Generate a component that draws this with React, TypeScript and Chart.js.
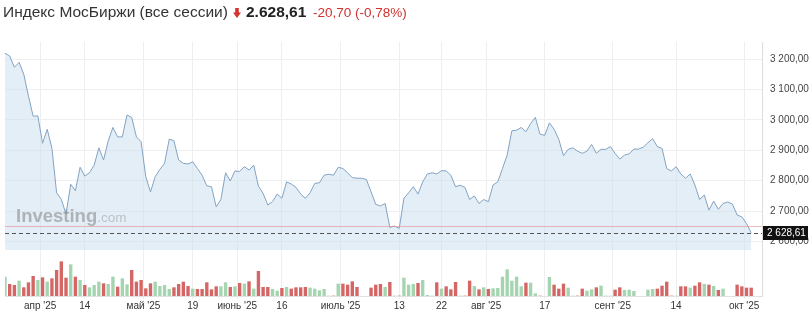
import { useEffect, useRef } from 'react';
import { Chart, registerables } from 'chart.js';

Chart.register(...registerables);

const TITLE = 'Индекс МосБиржи (все сессии)';
const LAST = 2628.61;
const PREV_CLOSE = 2649.31;
const CHANGE_TEXT = '-20,70 (-0,78%)';

const PRICES = [
  3219, 3210, 3173, 3189, 3150, 3078, 3012, 3013, 2923, 2969,
  2906, 2760, 2739, 2690, 2788, 2767, 2844, 2815, 2826, 2851,
  2908, 2868, 2931, 2975, 2944, 2944, 3016, 3008, 2944, 2928,
  2813, 2763, 2813, 2837, 2857, 2937, 2931, 2868, 2857, 2855,
  2862, 2840, 2818, 2783, 2780, 2714, 2738, 2826, 2799, 2832,
  2830, 2846, 2835, 2851, 2782, 2758, 2720, 2731, 2756, 2742,
  2796, 2789, 2778, 2756, 2742, 2760, 2791, 2793, 2818, 2821,
  2818, 2844, 2840, 2826, 2810, 2808, 2808, 2804, 2763, 2722,
  2717, 2725, 2646, 2651, 2643, 2742, 2760, 2780, 2756, 2796,
  2822, 2826, 2822, 2833, 2832, 2818, 2780, 2785, 2778, 2738,
  2750, 2725, 2738, 2731, 2786, 2796, 2840, 2884, 2964, 2966,
  2975, 2961, 2988, 3008, 2953, 2949, 2990, 2969, 2936, 2882,
  2903, 2908, 2897, 2890, 2897, 2919, 2890, 2903, 2903, 2912,
  2890, 2871, 2884, 2888, 2904, 2904, 2910, 2925, 2938, 2912,
  2906, 2840, 2832, 2846, 2822, 2808, 2822, 2786, 2738, 2753,
  2703, 2733, 2706, 2725, 2730, 2723, 2687, 2681, 2659, 2628.61,
];

const VOLUMES = [
  58, 36, 33, 46, 26, 41, 60, 48, 56, 43,
  53, 78, 104, 55, 95, 58, 48, 33, 26, 33,
  43, 38, 36, 58, 28, 53, 35, 78, 43, 48,
  23, 38, 43, 30, 33, 21, 26, 36, 43, 30,
  22, 21, 21, 41, 20, 29, 29, 41, 27, 29,
  39, 37, 44, 22, 75, 27, 27, 21, 16, 24,
  27, 22, 26, 26, 27, 25, 22, 17, 21, 1,
  1, 37, 37, 34, 44, 27, 0, 0, 25, 34,
  36, 27, 42, 1, 1, 55, 34, 36, 39, 48,
  3, 1, 41, 22, 29, 20, 42, 1, 1, 46,
  30, 20, 26, 21, 23, 24, 58, 80, 46, 58,
  29, 40, 40, 8, 1, 0, 57, 34, 22, 37,
  25, 1, 1, 22, 16, 20, 26, 31, 1, 1,
  19, 26, 18, 19, 15, 0, 0, 19, 21, 22,
  31, 43, 1, 1, 29, 29, 25, 31, 41, 36,
  34, 30, 18, 22, 0, 0, 34, 29, 25, 25,
];

const TICK_POS = [7.5, 17, 29.5, 40, 49.5, 59, 71.5, 84, 93, 102.5, 115, 129.5, 143, 157.5];
const TICK_LABELS = ["апр '25", '14', "май '25", '19', "июнь '25", '16', "июль '25", '13', '22', "авг '25", '17', "сент '25", '14', "окт '25"];
const Y_TICKS = [2600, 2700, 2800, 2900, 3000, 3100, 3200];

const FONT = "'Liberation Sans', Arial, sans-serif";
const UP = '#a5d5b0';
const DOWN = '#d46666';

function fmt(v: number): string {
  const [i, d] = v.toFixed(2).split('.');
  return i.replace(/\B(?=(\d{3})+(?!\d))/g, ' ') + ',' + d;
}

const overlay = {
  id: 'overlay',
  afterDatasetsDraw(chart: any) {
    const { ctx, chartArea } = chart;
    const y = chart.scales.y;
    ctx.save();
    ctx.lineWidth = 1;
    const yp = Math.round(y.getPixelForValue(PREV_CLOSE)) + 0.5;
    ctx.strokeStyle = 'rgba(228,140,140,0.6)';
    ctx.beginPath();
    ctx.moveTo(chartArea.left, yp);
    ctx.lineTo(chartArea.right, yp);
    ctx.stroke();
    const yl = Math.round(y.getPixelForValue(LAST)) + 0.5;
    ctx.setLineDash([4, 3]);
    ctx.strokeStyle = '#555';
    ctx.beginPath();
    ctx.moveTo(chartArea.left, yl);
    ctx.lineTo(chartArea.right, yl);
    ctx.stroke();
    ctx.restore();
  },
  afterDraw(chart: any) {
    const { ctx, chartArea } = chart;
    const y = chart.scales.y;
    const yl = Math.round(y.getPixelForValue(LAST));
    ctx.save();
    ctx.fillStyle = '#111';
    ctx.fillRect(chartArea.right + 1, yl - 7, 45, 14);
    ctx.fillStyle = '#fff';
    ctx.font = `10px ${FONT}`;
    ctx.textBaseline = 'middle';
    ctx.textAlign = 'left';
    ctx.fillText(fmt(LAST), chartArea.right + 5, yl + 0.5);
    ctx.restore();
  },
};

export default function App() {
  const ref = useRef<HTMLCanvasElement | null>(null);

  useEffect(() => {
    if (!ref.current) return;
    const n = PRICES.length;
    const colors = PRICES.map((v, i) => (i === 0 || v >= PRICES[i - 1] ? UP : DOWN));
    const chart = new Chart(ref.current, {
      type: 'line',
      data: {
        datasets: [
          {
            type: 'line',
            data: PRICES.map((v, i) => ({ x: i, y: v })),
            xAxisID: 'x',
            yAxisID: 'y',
            borderColor: '#82a3c3',
            borderWidth: 1,
            backgroundColor: 'rgba(200,221,240,0.5)',
            fill: 'start',
            pointRadius: 0,
            tension: 0,
          },
          {
            type: 'bar',
            data: VOLUMES.map((v, i) => ({ x: i, y: v })),
            xAxisID: 'x',
            yAxisID: 'yv',
            backgroundColor: colors,
            borderWidth: 0,
          } as any,
        ],
      },
      options: {
        responsive: false,
        animation: false,
        devicePixelRatio: 1,
        layout: { padding: { top: 42, left: 5, right: 0, bottom: 0 } },
        plugins: { legend: { display: false }, tooltip: { enabled: false }, title: { display: false } },
        scales: {
          x: {
            type: 'linear',
            offset: false,
            min: 0,
            max: n - 1 + 2.3,
            afterBuildTicks: (s: any) => {
              s.ticks = TICK_POS.map((v) => ({ value: v }));
            },
            afterFit: (s: any) => {
              s.height = 18;
            },
            grid: { color: '#eeeeee', drawTicks: true, tickLength: 3, offset: false },
            border: { display: true, color: '#e2e2e2' },
            ticks: {
              autoSkip: false,
              maxRotation: 0,
              padding: 1,
              color: '#333',
              font: { family: FONT, size: 10 },
              callback: (v: any) => {
                const k = TICK_POS.indexOf(Number(v));
                return k >= 0 ? TICK_LABELS[k] : '';
              },
            },
          },
          y: {
            type: 'linear',
            position: 'right',
            stack: 'main',
            stackWeight: 208,
            min: 2572,
            max: 3256,
            afterBuildTicks: (s: any) => {
              s.ticks = Y_TICKS.map((v) => ({ value: v }));
            },
            afterFit: (s: any) => {
              s.width = 50;
            },
            grid: { color: '#efefef', drawTicks: false },
            border: { display: true, color: '#dddddd' },
            ticks: {
              padding: 8,
              color: '#444',
              font: { family: FONT, size: 10 },
              callback: (v: any) => fmt(Number(v)),
            },
          },
          yv: {
            type: 'linear',
            position: 'right',
            stack: 'main',
            stackWeight: 46,
            min: 0,
            max: 138,
            afterFit: (s: any) => {
              s.width = 50;
            },
            grid: { display: false, drawTicks: false },
            border: { display: true, color: '#dddddd' },
            ticks: { display: false },
          },
        },
      } as any,
      plugins: [overlay],
    });
    return () => chart.destroy();
  }, []);

  return (
    <div style={{ position: 'absolute', left: 0, top: 0, width: 812, height: 314, background: '#fff', overflow: 'hidden', fontFamily: FONT }}>
      <canvas ref={ref} width={812} height={314} style={{ position: 'absolute', left: 0, top: 0, display: 'block' }} />
      <div style={{ position: 'absolute', left: 3, top: 3, fontSize: 15.5, lineHeight: '18px', color: '#333', whiteSpace: 'nowrap' }}>{TITLE}</div>
      <svg style={{ position: 'absolute', left: 233, top: 8 }} width={8} height={10} viewBox="0 0 8 10">
        <rect x={2.2} y={0} width={3.6} height={5} fill="#d4322c" />
        <polygon points="0,4.5 8,4.5 4,10" fill="#d4322c" />
      </svg>
      <div style={{ position: 'absolute', left: 246, top: 3, fontSize: 15.5, lineHeight: '18px', fontWeight: 700, color: '#222', whiteSpace: 'nowrap' }}>{LAST.toFixed(2).replace('.', ',').replace(/^(\d)(\d{3})/, '$1.$2')}</div>
      <div style={{ position: 'absolute', left: 313, top: 4, fontSize: 13.5, lineHeight: '18px', color: '#d0312d', whiteSpace: 'nowrap' }}>{CHANGE_TEXT}</div>
      <div style={{ position: 'absolute', left: 16, top: 204, whiteSpace: 'nowrap', pointerEvents: 'none', lineHeight: '24px' }}>
        <span style={{ fontSize: 18.5, fontWeight: 700, color: 'rgba(140,140,140,0.6)' }}>Investing</span>
        <span style={{ fontSize: 13.5, color: 'rgba(150,150,150,0.5)' }}>.com</span>
      </div>
    </div>
  );
}
